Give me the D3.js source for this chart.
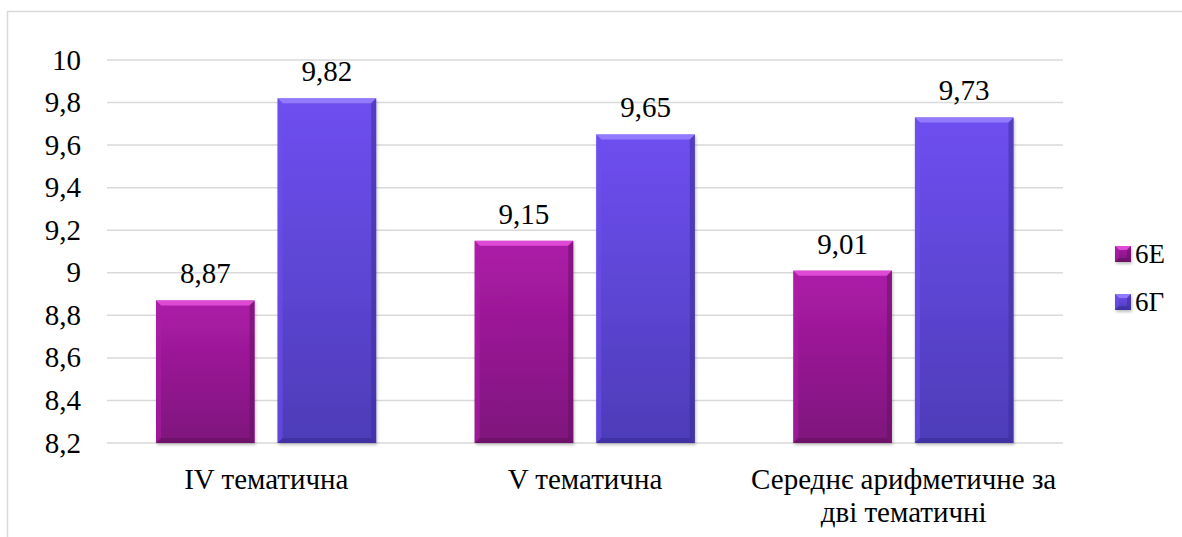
<!DOCTYPE html>
<html><head><meta charset="utf-8">
<script src="https://cdn.jsdelivr.net/npm/d3@7"></script>
<style>body{margin:0;background:#fff}svg{display:block}</style>
</head><body><svg id="c" width="1182" height="537"></svg>
<script>
const categories = [["IV тематична"], ["V тематична"], ["Середнє арифметичне за", "дві тематичні"]];
const seriesNames = ["6Е", "6Г"];
const values6E = [8.87, 9.15, 9.01];
const values6G = [9.82, 9.65, 9.73];
const yTicks = [8.2, 8.4, 8.6, 8.8, 9, 9.2, 9.4, 9.6, 9.8, 10];
const valueLabels6E = ["8,87", "9,15", "9,01"];
const valueLabels6G = ["9,82", "9,65", "9,73"];

const FONT = '"Liberation Serif"';
const svg = d3.select("#c");
const defs = svg.append("defs");
const colors = [
  {top:"#ad1ca8", bot:"#7e137c", hi:"#e652dc", dark:"#64105f"},
  {top:"#6e4ff0", bot:"#4d3cb8", hi:"#9a82ff", dark:"#3a2c94"}
];
colors.forEach((c,i)=>{
  const g = defs.append("linearGradient").attr("id","g"+i).attr("x1",0).attr("y1",0).attr("x2",0).attr("y2",1);
  g.append("stop").attr("offset","0%").attr("stop-color",c.top);
  g.append("stop").attr("offset","100%").attr("stop-color",c.bot);
});
const f = defs.append("filter").attr("id","sh").attr("x","-10%").attr("y","-10%").attr("width","130%").attr("height","130%");
f.append("feDropShadow").attr("dx",1).attr("dy",2).attr("stdDeviation",1.5).attr("flood-color","#000").attr("flood-opacity",0.25);

// outer border
svg.append("path").attr("d","M7.5,540 L7.5,11.5 L1190,11.5").attr("fill","none").attr("stroke","#d9d9d9").attr("stroke-width",1.5);

const L = 107, R = 1063, T = 60, B = 443;
const y = d3.scaleLinear().domain([8.2, 10]).range([B, T]);
const x0 = d3.scaleBand().domain(d3.range(categories.length)).range([L, R]).padding(0);
const x1 = d3.scaleBand().domain(d3.range(seriesNames.length)).range([49, 49 + 98.6*2 + 23]).paddingInner(23/121.6).paddingOuter(0);

// gridlines
svg.append("g").selectAll("line").data(yTicks).join("line")
  .attr("x1", L).attr("x2", R).attr("y1", d=>y(d)).attr("y2", d=>y(d))
  .attr("stroke","#d9d9d9").attr("stroke-width",1.5);

function txt(sel){ return sel.style("font-family", FONT).attr("fill","#000"); }

// y labels
txt(svg.append("g").selectAll("text").data(yTicks).join("text"))
  .attr("x", 81).attr("y", d=>y(d)+9.5).attr("text-anchor","end").attr("font-size",29)
  .text(d=>String(d).replace(".", ","));

const series = [values6E, values6G];
const labels = [valueLabels6E, valueLabels6G];

function drawBar(g, x, yTop, w, h, c, gi){
  const b = Math.min(5, w/4);
  g.append("rect").attr("x",x).attr("y",yTop).attr("width",w).attr("height",h).attr("fill",`url(#g${gi})`).attr("filter","url(#sh)");
  g.append("polygon").attr("points",`${x},${yTop} ${x+w},${yTop} ${x+w-b},${yTop+b} ${x+b},${yTop+b}`).attr("fill",c.hi).attr("opacity",0.85);
  g.append("polygon").attr("points",`${x},${yTop} ${x+b},${yTop+b} ${x+b},${yTop+h-b} ${x},${yTop+h}`).attr("fill",c.top).attr("opacity",0.6);
  g.append("polygon").attr("points",`${x+w},${yTop} ${x+w-b},${yTop+b} ${x+w-b},${yTop+h-b} ${x+w},${yTop+h}`).attr("fill",c.dark).attr("opacity",0.5);
  g.append("polygon").attr("points",`${x},${yTop+h} ${x+b},${yTop+h-b} ${x+w-b},${yTop+h-b} ${x+w},${yTop+h}`).attr("fill",c.dark).attr("opacity",0.6);
}

const bars = svg.append("g");
categories.forEach((cat, ci)=>{
  series.forEach((vals, si)=>{
    const x = x0(ci) + x1(si), w = x1.bandwidth();
    const yt = y(vals[ci]);
    drawBar(bars, x, yt, w, B - yt, colors[si], si);
    txt(svg.append("text")).attr("x", x + w/2).attr("y", yt - 17).attr("text-anchor","middle").attr("font-size",29).text(labels[si][ci]);
  });
  const t = txt(svg.append("text")).attr("text-anchor","middle").attr("font-size",29);
  cat.forEach((line, li)=>{
    t.append("tspan").attr("x", x0(ci) + x0.bandwidth()/2).attr("y", 489 + li*33).text(line);
  });
});

// legend
const leg = svg.append("g");
seriesNames.forEach((n,i)=>{
  const yy = 246 + i*48;
  drawBar(leg, 1115, yy, 16, 16, colors[i], i);
  txt(leg.append("text")).attr("x",1135).attr("y",yy+17).attr("font-size",27).text(n);
});
</script></body></html>
